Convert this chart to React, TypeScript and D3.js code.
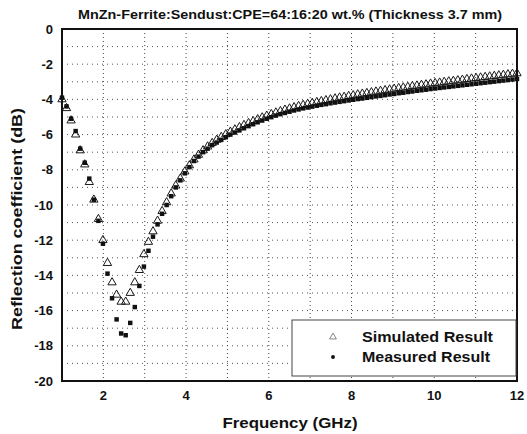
import React from "react";
import * as d3 from "d3";

const title = "MnZn-Ferrite:Sendust:CPE=64:16:20 wt.% (Thickness 3.7 mm)";
const xLabel = "Frequency (GHz)";
const yLabel = "Reflection coefficient (dB)";
const xTicks = [2, 4, 6, 8, 10, 12];
const yTicks = [0, -2, -4, -6, -8, -10, -12, -14, -16, -18, -20];
const xGrid = [2, 3, 4, 5, 6, 7, 8, 9, 10, 11];
const yGrid = [-1, -2, -3, -4, -5, -6, -7, -8, -9, -10, -11, -12, -13, -14, -15, -16, -17, -18, -19];
const legendLabels = ["Simulated Result", "Measured Result"];

const freq = [
  1.0, 1.11, 1.22, 1.33, 1.44, 1.55, 1.66, 1.77, 1.88, 1.99,
  2.1, 2.21, 2.32, 2.43, 2.54, 2.65, 2.76, 2.87, 2.98, 3.09,
  3.2, 3.31, 3.42, 3.53, 3.64, 3.75, 3.86, 3.97, 4.08, 4.19,
  4.3, 4.41, 4.52, 4.63, 4.74, 4.85, 4.96, 5.07, 5.18, 5.29,
  5.4, 5.51, 5.62, 5.73, 5.84, 5.95, 6.06, 6.17, 6.28, 6.39,
  6.5, 6.61, 6.72, 6.83, 6.94, 7.05, 7.16, 7.27, 7.38, 7.49,
  7.6, 7.71, 7.82, 7.93, 8.04, 8.15, 8.26, 8.37, 8.48, 8.59,
  8.7, 8.81, 8.92, 9.03, 9.14, 9.25, 9.36, 9.47, 9.58, 9.69,
  9.8, 9.91, 10.02, 10.13, 10.24, 10.35, 10.46, 10.57, 10.68, 10.79,
  10.9, 11.01, 11.12, 11.23, 11.34, 11.45, 11.56, 11.67, 11.78, 11.89,
  12.0,
];

const measured = [
  -3.9, -4.4, -5.1, -5.8, -6.8, -7.6, -8.5, -9.7, -10.9, -12.2,
  -13.9, -15.3, -16.5, -17.3, -17.4, -16.7, -15.8, -14.6, -13.5, -12.6,
  -11.8, -11.1, -10.5, -10.0, -9.5, -9.0, -8.6, -8.2, -7.85, -7.5,
  -7.25, -7.0, -6.8, -6.6, -6.45, -6.3, -6.15, -6.0, -5.88, -5.76,
  -5.64, -5.52, -5.41, -5.3, -5.2, -5.1, -5.01, -4.92, -4.84, -4.77,
  -4.7, -4.63, -4.57, -4.51, -4.46, -4.41, -4.36, -4.31, -4.27, -4.22,
  -4.18, -4.14, -4.1, -4.06, -4.02, -3.98, -3.95, -3.91, -3.87, -3.83,
  -3.8, -3.76, -3.72, -3.69, -3.65, -3.62, -3.58, -3.55, -3.51, -3.48,
  -3.45, -3.41, -3.38, -3.35, -3.32, -3.29, -3.26, -3.23, -3.2, -3.17,
  -3.14, -3.11, -3.08, -3.05, -3.02, -2.99, -2.96, -2.93, -2.9, -2.87,
  -2.84,
];

const simulated = [
  -4.0, -4.5, -5.2, -6.0, -6.9, -7.7, -8.7, -9.7, -10.8, -12.0,
  -13.3, -14.4, -15.1, -15.5, -15.5, -15.0, -14.4, -13.7, -12.8, -12.1,
  -11.5, -10.9, -10.35, -9.85, -9.35, -8.9, -8.5, -8.1, -7.75, -7.42,
  -7.15, -6.9, -6.68, -6.48, -6.3, -6.14, -5.99, -5.84, -5.71, -5.58,
  -5.46, -5.35, -5.24, -5.13, -5.03, -4.93, -4.84, -4.75, -4.67, -4.59,
  -4.52, -4.45, -4.38, -4.32, -4.26, -4.2, -4.15, -4.1, -4.05, -4.0,
  -3.95, -3.9, -3.86, -3.81, -3.77, -3.72, -3.68, -3.64, -3.6, -3.56,
  -3.52, -3.48, -3.44, -3.4, -3.36, -3.33, -3.29, -3.25, -3.22, -3.18,
  -3.15, -3.11, -3.08, -3.05, -3.01, -2.98, -2.95, -2.92, -2.89, -2.85,
  -2.82, -2.79, -2.76, -2.73, -2.7, -2.67, -2.64, -2.61, -2.58, -2.55,
  -2.52,
];

const W = 527;
const H = 434;
const L = 62, R = 517, T = 29, B = 381;
const FONT = "'Liberation Sans', Arial, sans-serif";

export default function App() {
  const x = d3.scaleLinear().domain([1, 12]).range([L, R]);
  const y = d3.scaleLinear().domain([0, -20]).range([T, B]);
  const tri = d3.symbol().type(d3.symbolTriangle).size(30)() as string;
  const sq = d3.symbol().type(d3.symbolSquare).size(20)() as string;
  const legTri = d3.symbol().type(d3.symbolTriangle).size(20)() as string;
  const legDot = d3.symbol().type(d3.symbolCircle).size(12)() as string;

  return (
    <svg width={W} height={H} style={{ position: "absolute", left: 0, top: 0, background: "#fff" }} fontFamily={FONT}>
      <rect x={0} y={0} width={W} height={H} fill="#fff" />
      {/* grid */}
      {xGrid.map((g) => (
        <line key={"gx" + g} x1={x(g)} x2={x(g)} y1={T} y2={B} stroke="#444" strokeWidth={1} strokeDasharray="1,3" />
      ))}
      {yGrid.map((g) => (
        <line key={"gy" + g} x1={L} x2={R} y1={y(g)} y2={y(g)} stroke="#555" strokeWidth={1} strokeDasharray="1,4" />
      ))}
      {/* simulated */}
      <g fill="none" stroke="#1a1a1a" strokeWidth={1}>
        {freq.map((f, i) => (
          <path key={"s" + i} d={tri} transform={`translate(${x(f)},${y(simulated[i])})`} />
        ))}
      </g>
      {/* measured */}
      <g fill="#111">
        {freq.map((f, i) => (
          <path key={"m" + i} d={sq} transform={`translate(${x(f)},${y(measured[i])})`} />
        ))}
      </g>
      {/* frame */}
      <rect x={L} y={T} width={R - L} height={B - T} fill="none" stroke="#111" strokeWidth={2} />
      {/* ticks */}
      {yTicks.map((t) => (
        <text key={"yt" + t} x={53} y={y(t)} textAnchor="end" dominantBaseline="central" fontSize={13} fontWeight="bold" fill="#111">
          {t}
        </text>
      ))}
      {xTicks.map((t) => (
        <text key={"xt" + t} x={x(t)} y={400} textAnchor="middle" fontSize={13} fontWeight="bold" fill="#111">
          {t}
        </text>
      ))}
      {/* title */}
      <text x={290} y={19} textAnchor="middle" fontSize={13} fontWeight="bold" fill="#111" textLength={424} lengthAdjust="spacingAndGlyphs">
        {title}
      </text>
      <text x={290} y={428} textAnchor="middle" fontSize={15} fontWeight="bold" fill="#111" textLength={135} lengthAdjust="spacingAndGlyphs">
        {xLabel}
      </text>
      <text transform={`translate(22,219) rotate(-90)`} textAnchor="middle" fontSize={15} fontWeight="bold" fill="#111" textLength={222} lengthAdjust="spacingAndGlyphs">
        {yLabel}
      </text>
      {/* legend */}
      <rect x={292} y={320} width={224} height={56} fill="#fff" stroke="#444" strokeWidth={1} />
      <path d={legTri} transform="translate(333,337)" fill="none" stroke="#666" strokeWidth={0.8} />
      <path d={legDot} transform="translate(333,357)" fill="#111" />
      <text x={362} y={342} fontSize={15} fontWeight="bold" fill="#111" textLength={131} lengthAdjust="spacingAndGlyphs">
        {legendLabels[0]}
      </text>
      <text x={362} y={362} fontSize={15} fontWeight="bold" fill="#111" textLength={128} lengthAdjust="spacingAndGlyphs">
        {legendLabels[1]}
      </text>
    </svg>
  );
}
